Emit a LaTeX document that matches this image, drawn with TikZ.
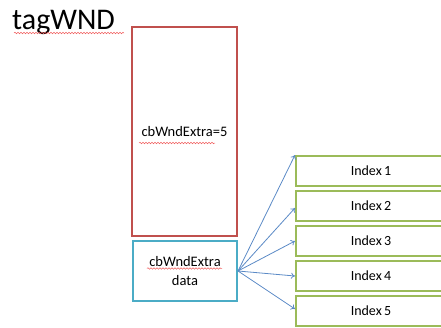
\documentclass[tikz,border=0pt]{standalone}
\usepackage{fontspec}
\setmainfont{Carlito}
\usetikzlibrary{arrows.meta,decorations.pathmorphing}
\definecolor{boxred}{HTML}{C0504D}
\definecolor{boxblue}{HTML}{4BACC6}
\definecolor{boxgreen}{HTML}{9BBB59}
\definecolor{arrowblue}{HTML}{5B8AC6}
\definecolor{squig}{HTML}{F06060}
\begin{document}
\begin{tikzpicture}[x=1pt,y=-1pt,
  txt/.style={font=\fontsize{14.5}{18}\selectfont, text=black, inner sep=0pt},
  idx/.style={draw=boxgreen, line width=2pt, minimum width=150pt, minimum height=30pt, anchor=north west, inner sep=0pt, font=\fontsize{14}{17}\selectfont},
  link/.style={draw=arrowblue, line width=0.8pt, -{To[length=4pt,width=6pt]}},
  spell/.style={draw=squig, line width=0.5pt, decorate, decoration={snake, amplitude=0.8pt, segment length=3pt}}]
\useasboundingbox (0,0) rectangle (441,327);
\clip (0,0) rectangle (441,327);
% title
\node[anchor=base west, inner sep=0pt, font=\fontsize{30}{34}\selectfont] (title) at (12,29) {tagWND};
\draw[spell] (14,33) -- (124,33);
% red box
\node[draw=boxred, line width=2pt, minimum width=105pt, minimum height=209pt, inner sep=0pt, anchor=north west] (wnd) at (131,26) {};
\node[txt] (extra) at (wnd.center) {cbWndExtra=5};
\draw[spell] (139,143) -- (215,143);
% blue box
\node[draw=boxblue, line width=2pt, minimum width=104pt, minimum height=60pt, inner sep=0pt, anchor=north west] (data) at (132,240) {};
\node[txt, align=center] (datatxt) at (data.center) {cbWndExtra\\[1pt]data};
\draw[spell] (147,268.5) -- (222,268.5);
% index boxes
\node[idx] (i1) at (295,155) {Index\,1};
\node[idx] (i2) at (295,190) {Index\,2};
\node[idx] (i3) at (295,225) {Index\,3};
\node[idx] (i4) at (295,260) {Index\,4};
\node[idx] (i5) at (295,295) {Index\,5};
% arrows
\coordinate (src) at (data.east);
\draw[link] (src) -- (i1.north west);
\draw[link] (src) -- ([yshift=-2pt]i2.west);
\draw[link] (src) -- (i3.west);
\draw[link] (src) -- (i4.west);
\draw[link] (src) -- ([yshift=2pt]i5.west);
\end{tikzpicture}
\end{document}
